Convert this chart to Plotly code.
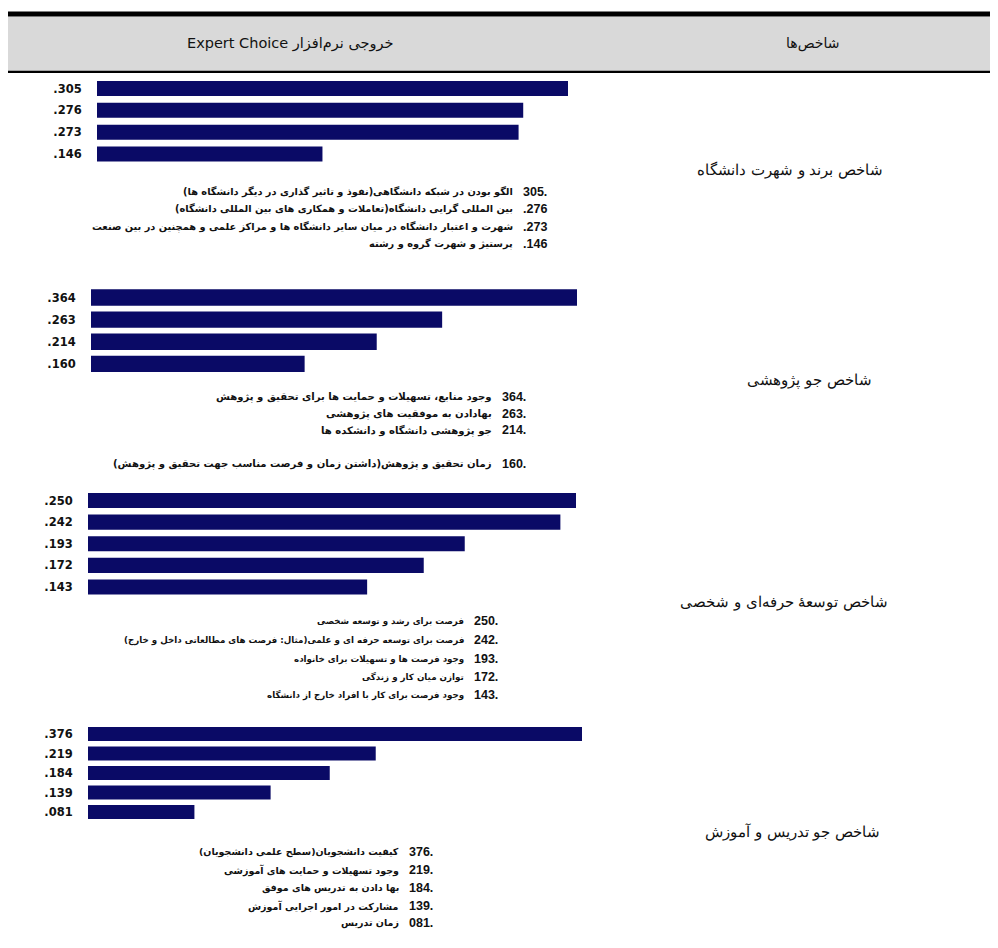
import plotly.graph_objects as go

W, H = 998, 948
OFF = 8  # the page body margin shifts the figure by 8px

# ---------------- data ----------------
header_left = "خروجی نرم‌افزار Expert Choice"
header_right = "شاخص‌ها"

categories = [
    "شاخص برند و شهرت دانشگاه",
    "شاخص جو پژوهشی",
    "شاخص توسعهٔ حرفه‌ای و شخصی",
    "شاخص جو تدریس و آموزش",
]

values_brand = [0.305, 0.276, 0.273, 0.146]
values_research = [0.364, 0.263, 0.214, 0.160]
values_develop = [0.250, 0.242, 0.193, 0.172, 0.143]
values_teach = [0.376, 0.219, 0.184, 0.139, 0.081]

ticks_brand = [".305", ".276", ".273", ".146"]
ticks_research = [".364", ".263", ".214", ".160"]
ticks_develop = [".250", ".242", ".193", ".172", ".143"]
ticks_teach = [".376", ".219", ".184", ".139", ".081"]

nums_brand = ["305.", ".276", ".273", ".146"]
nums_research = ["364.", "263.", "214.", "160."]
nums_develop = ["250.", "242.", "193.", "172.", "143."]
nums_teach = ["376.", "219.", "184.", "139.", "081."]

desc_brand = [
    "الگو بودن در شبکه دانشگاهی(نفوذ و تاثیر گذاری در دیگر دانشگاه ها)",
    "بین المللی گرایی دانشگاه(تعاملات و همکاری های بین المللی دانشگاه)",
    "شهرت و اعتبار دانشگاه در میان سایر دانشگاه ها و مراکز علمی و همچنین در بین صنعت",
    "پرستیژ و شهرت گروه و رشته",
]
desc_research = [
    "وجود منابع، تسهیلات و حمایت ها برای تحقیق و پژوهش",
    "بهادادن به موفقیت های پژوهشی",
    "جو پژوهشی دانشگاه و دانشکده ها",
    "زمان تحقیق و پژوهش(داشتن زمان و فرصت مناسب جهت تحقیق و پژوهش)",
]
desc_develop = [
    "فرصت برای رشد و توسعه شخصی",
    "فرصت برای توسعه حرفه ای و علمی(مثال: فرصت های مطالعاتی داخل و خارج)",
    "وجود فرصت ها و تسهیلات برای خانواده",
    "توازن میان کار و زندگی",
    "وجود فرصت برای کار با افراد خارج از دانشگاه",
]
desc_teach = [
    "کیفیت دانشجویان(سطح علمی دانشجویان)",
    "وجود تسهیلات و حمایت های آموزشی",
    "بها دادن به تدریس های موفق",
    "مشارکت در امور اجرایی آموزش",
    "زمان تدریس",
]

# ---------------- layout helpers (page pixel -> paper) ----------------
def px(x):
    return (x - OFF) / W

def py(y):
    return 1 - (y - OFF) / H

BAR = "#0a0a66"
FONT = "DejaVu Sans"
NUMFONT = "Liberation Sans"

sections = [
    dict(vals=values_brand, ticks=ticks_brand, nums=nums_brand, desc=desc_brand,
         xdom=(97, 568), ydom=(77.6, 164.9), bw=0.69, dsize=9.8,
         num_left=521, lines=[192, 209, 227, 244], cat_x=790, cat_y=170),
    dict(vals=values_research, ticks=ticks_research, nums=nums_research, desc=desc_research,
         xdom=(91, 577), ydom=(286.4, 375.0), bw=0.74, dsize=10.1,
         num_left=500, lines=[397, 414, 430, 464], cat_x=809, cat_y=380),
    dict(vals=values_develop, ticks=ticks_develop, nums=nums_develop, desc=desc_develop,
         xdom=(88, 576), ydom=(489.7, 597.8), bw=0.70, dsize=8.7,
         num_left=472, lines=[621, 640, 659, 677, 695], cat_x=784, cat_y=602),
    dict(vals=values_teach, ticks=ticks_teach, nums=nums_teach, desc=desc_teach,
         xdom=(88, 582), ydom=(724.3, 821.8), bw=0.72, dsize=9.5,
         num_left=407, lines=[852, 870, 888, 906, 923], cat_x=792, cat_y=832),
]

fig = go.Figure()
annotations = []
layout_axes = {}

for i, s in enumerate(sections):
    k = "" if i == 0 else str(i + 1)
    n = len(s["vals"])
    idx = list(range(n))
    fig.add_trace(go.Bar(
        x=s["vals"], y=idx, orientation="h",
        marker=dict(color=BAR, line=dict(width=0)),
        width=s["bw"], xaxis="x" + k, yaxis="y" + k,
        hoverinfo="skip", showlegend=False,
    ))
    layout_axes["xaxis" + k] = dict(
        domain=[px(s["xdom"][0]), px(s["xdom"][1])],
        range=[0, max(s["vals"])], visible=False, anchor="y" + k, fixedrange=True,
    )
    layout_axes["yaxis" + k] = dict(
        domain=[py(s["ydom"][1]), py(s["ydom"][0])],
        range=[n - 0.5, -0.5], anchor="x" + k,
        tickvals=idx, ticktext=s["ticks"],
        ticks="outside", ticklen=12, tickcolor="rgba(0,0,0,0)",
        showline=False, showgrid=False, zeroline=False,
        tickfont=dict(family=FONT, size=11.5, color="#111111", weight="bold"),
        fixedrange=True,
    )
    for j, (num, txt) in enumerate(zip(s["nums"], s["desc"])):
        yy = s["lines"][j]
        annotations.append(dict(
            x=px(s["num_left"]), y=py(yy), xref="paper", yref="paper",
            text=num, showarrow=False, xanchor="left", yanchor="middle",
            font=dict(family=NUMFONT, size=12.5, color="#111111", weight="bold"),
        ))
        annotations.append(dict(
            x=px(s["num_left"] - 6), y=py(yy), xref="paper", yref="paper",
            text="\u202b" + txt + "\u202c", showarrow=False, xanchor="right", yanchor="middle",
            font=dict(family=FONT, size=s["dsize"], color="#111111", weight="bold"),
        ))
    annotations.append(dict(
        x=px(s["cat_x"]), y=py(s["cat_y"]), xref="paper", yref="paper",
        text="\u202b" + categories[i] + "\u202c", showarrow=False,
        xanchor="center", yanchor="middle",
        font=dict(family="DejaVu Serif", size=15, color="#111111"),
    ))

annotations.append(dict(
    x=px(290), y=py(43), xref="paper", yref="paper",
    text="\u202b" + header_left + "\u202c", showarrow=False,
    xanchor="center", yanchor="middle",
    font=dict(family=FONT, size=14.5, color="#111111"),
))
annotations.append(dict(
    x=px(812), y=py(43), xref="paper", yref="paper",
    text="\u202b" + header_right + "\u202c", showarrow=False,
    xanchor="center", yanchor="middle",
    font=dict(family=FONT, size=14, color="#111111"),
))

shapes = [
    dict(type="rect", xref="paper", yref="paper", x0=0, x1=1, y0=py(71), y1=py(16.5),
         fillcolor="#d9d9d9", line=dict(width=0), layer="below"),
    dict(type="rect", xref="paper", yref="paper", x0=0, x1=1, y0=py(16.5), y1=py(11.5),
         fillcolor="#000000", line=dict(width=0)),
    dict(type="rect", xref="paper", yref="paper", x0=0, x1=1, y0=py(73), y1=py(70.7),
         fillcolor="#000000", line=dict(width=0)),
]

fig.update_layout(
    width=W, height=H,
    margin=dict(l=0, r=0, t=0, b=0),
    paper_bgcolor="white", plot_bgcolor="white",
    annotations=annotations, shapes=shapes,
    bargap=0.3, showlegend=False,
    **layout_axes,
)

fig.write_html("out.html")
